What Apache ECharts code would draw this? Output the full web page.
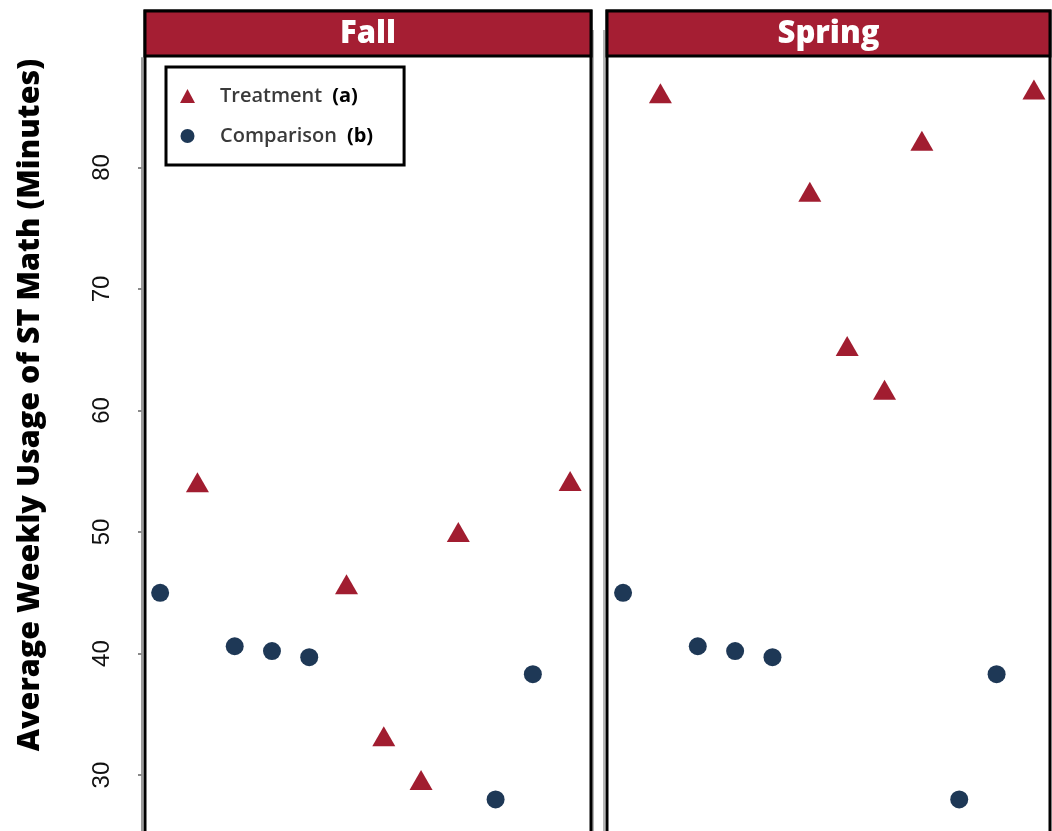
<!DOCTYPE html>
<html>
<head>
<meta charset="utf-8">
<script src="https://cdn.jsdelivr.net/npm/echarts@6/dist/echarts.min.js"></script>
<style>
  html, body { margin: 0; padding: 0; background: #fff; }
  #chart { width: 1052px; height: 831px; }
</style>
</head>
<body>
<div id="chart"></div>
<script>
// Twelve sites per term; each site belongs to one group
const sites = [1, 2, 3, 4, 5, 6, 7, 8, 9, 10, 11, 12];
const siteGroup = ['b', 'a', 'b', 'b', 'b', 'a', 'a', 'a', 'a', 'b', 'b', 'a'];
const fallMinutes = [45.0, 54.1, 40.6, 40.2, 39.7, 45.7, 33.2, 29.6, 50.0, 28.0, 38.3, 54.2];
const springMinutes = [45.0, 86.1, 40.6, 40.2, 39.7, 78.0, 65.3, 61.7, 82.2, 28.0, 38.3, 86.4];
const panelTitles = ['Fall', 'Spring'];
const yTicks = [30, 40, 50, 60, 70, 80];
const groupNames = { a: 'Treatment (a)', b: 'Comparison (b)' };

const RED = '#a11d30';
const NAVY = '#1e3856';
const HEADER = '#a51e33';

function pick(values, group) {
  return sites
    .map((s, i) => (siteGroup[i] === group ? [s, values[i]] : null))
    .filter(Boolean);
}

const panels = [
  { left: 146, right: 1052 - 591, xMin: 0.62, xMax: 12.56, values: fallMinutes },
  { left: 607, right: 2, xMin: 0.57, xMax: 12.43, values: springMinutes }
];

const grids = panels.map(p => ({ left: p.left, right: p.right, top: 58, bottom: 0, show: false }));

const xAxes = panels.map((p, i) => ({
  type: 'value', gridIndex: i, min: p.xMin, max: p.xMax, show: false
}));

const yAxes = panels.map((p, i) => ({
  type: 'value', gridIndex: i, min: 25.4, max: 89, offset: i === 0 ? 4 : 0,
  splitLine: { show: false },
  axisLine: { show: i === 0, lineStyle: { color: '#9a9a9a', width: 2 } },
  axisTick: { show: i === 0, length: 4, customValues: yTicks, lineStyle: { color: '#8a8a8a', width: 2 } },
  axisLabel: {
    show: i === 0, customValues: yTicks, rotate: 90, margin: 28,
    fontFamily: 'Liberation Sans', fontSize: 24, color: '#111'
  }
}));

const series = [];
panels.forEach((p, i) => {
  series.push({
    name: groupNames.a, type: 'scatter', xAxisIndex: i, yAxisIndex: i,
    symbol: 'triangle', symbolSize: [23, 20],
    itemStyle: { color: RED, opacity: 1 },
    data: pick(p.values, 'a')
  });
  series.push({
    name: groupNames.b, type: 'scatter', xAxisIndex: i, yAxisIndex: i,
    symbol: 'circle', symbolSize: 18,
    itemStyle: { color: NAVY, opacity: 1 },
    data: pick(p.values, 'b')
  });
});

// Panel frames and strip headers
const frames = [
  { x: 145, w: 446 },
  { x: 607, w: 443 }
];
const graphics = [];
frames.forEach((f, i) => {
  graphics.push({
    type: 'rect', z: 10, silent: true,
    shape: { x: f.x, y: 11, width: f.w, height: 860 },
    style: { fill: 'none', stroke: '#000', lineWidth: 3 }
  });
  graphics.push({
    type: 'rect', z: 11, silent: true,
    shape: { x: f.x, y: 11, width: f.w, height: 45 },
    style: { fill: HEADER, stroke: '#000', lineWidth: 3 }
  });
  graphics.push({
    type: 'text', z: 12, silent: true,
    x: f.x + f.w / 2, y: 34,
    style: {
      text: panelTitles[i], fill: '#fff', align: 'center', verticalAlign: 'middle',
      font: '800 31px "Open Sans"'
    }
  });
});
// grey shadow lines beside the frames
[593, 604].forEach(x => graphics.push({
  type: 'line', z: 9, silent: true,
  shape: { x1: x, y1: 30, x2: x, y2: 831 },
  style: { stroke: '#b5b5b5', lineWidth: 2 }
}));
graphics.push({
  type: 'text', z: 12, silent: true,
  x: 30, y: 405, rotation: Math.PI / 2,
  style: {
    text: 'Average Weekly Usage of ST Math (Minutes)', fill: '#000',
    align: 'center', verticalAlign: 'middle',
    font: '800 30.5px "Open Sans"'
  }
});

const chart = echarts.init(document.getElementById('chart'), null, { renderer: 'canvas' });
chart.setOption({
  animation: false,
  backgroundColor: '#fff',
  grid: grids,
  xAxis: xAxes,
  yAxis: yAxes,
  legend: {
    data: [
      { name: groupNames.a, icon: 'triangle', itemStyle: { color: RED } },
      { name: groupNames.b, icon: 'circle', itemStyle: { color: NAVY } }
    ],
    orient: 'vertical', left: 166, top: 67,
    itemWidth: 15, itemHeight: 14, itemGap: 20,
    padding: [19, 31, 19, 14],
    borderColor: '#000', borderWidth: 3, backgroundColor: '#fff',
    selectedMode: false,
    formatter: name => {
      const parts = name.split(' ');
      return '{n|' + parts[0] + '}   {b|' + parts[1] + '}';
    },
    textStyle: {
      padding: [0, 0, 0, 20],
      rich: {
        n: { fontFamily: 'Open Sans', fontWeight: 600, fontSize: 20, lineHeight: 20, color: '#3a3a3a' },
        b: { fontFamily: 'Open Sans', fontWeight: 'bold', fontSize: 20, lineHeight: 20, color: '#000' }
      }
    }
  },
  graphic: graphics,
  series: series
});
</script>
</body>
</html>
